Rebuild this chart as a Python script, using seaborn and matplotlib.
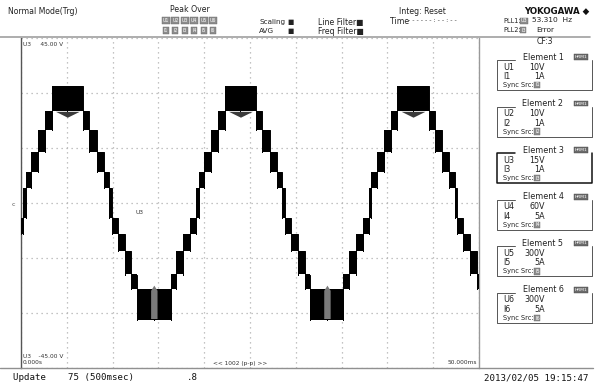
import numpy as np
import pandas as pd
import matplotlib.pyplot as plt
import seaborn as sns
from matplotlib.lines import Line2D

# --- data ---
PEAK_TIMES_MS = [5.06, 23.96, 42.80]
TROUGH_TIMES_MS = [14.50, 33.40]

# stair steps of the falling half wave, as offsets (ms) from a peak
STEP_START_MS = [0.00, 1.70, 2.40, 3.20, 3.95, 4.55, 4.85, 5.50, 6.25, 7.00, 7.63]
STEP_END_MS = [1.70, 2.40, 3.20, 3.95, 4.55, 4.85, 5.50, 6.25, 7.00, 7.63, 9.43]
STEP_LOW_V = [25.0, 20.0, 14.0, 8.5, 4.0, -4.0, -8.5, -13.0, -19.5, -23.5, -32.0]
STEP_HIGH_V = [32.0, 25.0, 20.0, 14.0, 8.5, 4.0, -4.0, -8.5, -13.0, -19.5, -23.5]

# grey detail under each peak and inside each trough
DIP_OFFSET_MS = [-1.3, 0.0, 1.3]
DIP_V = [25.0, 23.4, 25.0]
STRIPE_OFFSET_MS = [-0.35, 0.0, 0.35]
STRIPE_TOP_V = [-23.8, -22.4, -23.8]

ELEMENT_U = ['U1', 'U2', 'U3', 'U4', 'U5', 'U6']
ELEMENT_U_RANGE = ['10V', '10V', '15V', '60V', '300V', '300V']
ELEMENT_I = ['I1', 'I2', 'I3', 'I4', 'I5', 'I6']
ELEMENT_I_RANGE = ['1A', '1A', '1A', '5A', '5A', '5A']

X_TICKS_MS = [0, 5, 10, 15, 20, 25, 30, 35, 40, 45, 50]
Y_TICKS_V = [-45, -30, -15, 0, 15, 30, 45]

W, H = 599, 387


def px(x, y):
    return x / W, 1 - y / H


# build the blocks (mirror the falling half for the rising side)
rows = []
for tp in PEAK_TIMES_MS:
    for s, e, lo, hi in zip(STEP_START_MS, STEP_END_MS, STEP_LOW_V, STEP_HIGH_V):
        rows.append((tp + s, tp + e, lo, hi))
        rows.append((tp - e, tp - s, lo, hi))
blocks = pd.DataFrame(rows, columns=['t0', 't1', 'lo', 'hi'])
blocks['t0'] = blocks['t0'].clip(0, 50)
blocks['t1'] = blocks['t1'].clip(0, 50)
blocks = blocks[blocks['t1'] > blocks['t0']].sort_values('t0').reset_index(drop=True)

# outline trace running along the block edges
pts = []
for _, b in blocks.iterrows():
    pts += [(b.t0, b.lo), (b.t0, b.hi), (b.t1, b.hi), (b.t1, b.lo)]
trace = pd.DataFrame(pts, columns=['t', 'v'])

sns.set_style('white')
plt.rcParams['font.family'] = ['DejaVu Sans']

fig = plt.figure(figsize=(W / 100, H / 100), dpi=100)
ax = fig.add_axes([21 / W, 1 - 368 / H, 458 / W, 330 / H])

for _, b in blocks.iterrows():
    ax.fill_between([b.t0, b.t1], [b.lo, b.lo], [b.hi, b.hi],
                    color='black', linewidth=0, zorder=3)
sns.lineplot(data=trace, x='t', y='v', color='black', linewidth=0.7,
             sort=False, estimator=None, ax=ax, zorder=3)

for tp in PEAK_TIMES_MS:
    ax.fill_between([tp + o for o in DIP_OFFSET_MS], DIP_V, [25.0] * 3,
                    color='#3a3a3a', linewidth=0, zorder=4)
for tt in TROUGH_TIMES_MS:
    ax.fill_between([tt + o for o in STRIPE_OFFSET_MS], [-31.5] * 3, STRIPE_TOP_V,
                    color='#7a7a7a', linewidth=0, zorder=4)

ax.set_xlim(0, 50)
ax.set_ylim(-45, 45)
ax.set_xticks(X_TICKS_MS)
ax.set_yticks(Y_TICKS_V)
ax.tick_params(length=0, labelbottom=False, labelleft=False)
ax.grid(True, color='#b0b0b0', linestyle=(0, (1, 3)), linewidth=0.9)
ax.set_xlabel('')
ax.set_ylabel('')
for side in ['top', 'bottom']:
    ax.spines[side].set_visible(False)
ax.spines['left'].set_color('#555555')
ax.spines['left'].set_linewidth(1.0)
ax.spines['right'].set_color('#999999')
ax.spines['right'].set_linewidth(1.0)

# frame lines of the screen
fig.add_artist(Line2D([0, 590 / W], [1 - 36.5 / H] * 2, color='#a0a0a0', lw=1.2))
fig.add_artist(Line2D([0, 593 / W], [1 - 368 / H] * 2, color='#909090', lw=1.0))

small = dict(fontsize=5.6, color='#222222', va='center')
tiny = dict(fontsize=4.2, color='#333333', va='center')
tag = dict(fontsize=3.5, color='white', va='center')

# header
fig.text(*px(8, 12), 'Normal Mode(Trg)', **small)
fig.text(*px(190, 10), 'Peak Over', ha='center', **small)
for i in range(6):
    for row, lab in enumerate(['U', 'I']):
        fig.text(*px(166 + i * 9.4, 20.5 + row * 10), f'{lab}{i + 1}', fontsize=3.4,
                 color='white', ha='center', va='center',
                 bbox=dict(boxstyle='square,pad=0.18', fc='#8c8c8c', ec='#666666', lw=0.3))
fig.text(*px(259, 22), 'Scaling', fontsize=5.2, color='#222222', va='center')
fig.text(*px(259, 31), 'AVG', fontsize=5.2, color='#222222', va='center')
fig.text(*px(287, 22), '■', fontsize=4.8, color='#222222', va='center')
fig.text(*px(287, 31), '■', fontsize=4.8, color='#222222', va='center')
fig.text(*px(318, 22), 'Line Filter■', **small)
fig.text(*px(318, 31), 'Freq Filter■', **small)
fig.text(*px(390, 22), 'Time', **small)
fig.text(*px(422, 11), 'Integ: Reset', ha='center', **small)
fig.text(*px(432, 20), '- - - - - - : - - : - -', ha='center', fontsize=4.6,
         color='#222222', va='center')
fig.text(*px(589, 11), 'YOKOGAWA ◆', ha='right', fontsize=6.2, fontweight='bold',
         color='#111111', va='center')
fig.text(*px(503, 21), 'PLL1:', fontsize=4.8, color='#222222', va='center')
fig.text(*px(521, 21), 'U3', bbox=dict(boxstyle='square,pad=0.15', fc='#8c8c8c',
                                       ec='#666666', lw=0.3), **tag)
fig.text(*px(532, 20), '53.310  Hz', fontsize=5.4, color='#222222', va='center')
fig.text(*px(503, 30), 'PLL2:', fontsize=4.8, color='#222222', va='center')
fig.text(*px(521, 30), 'I3', bbox=dict(boxstyle='square,pad=0.15', fc='#8c8c8c',
                                       ec='#666666', lw=0.3), **tag)
fig.text(*px(536, 30), 'Error', fontsize=5.4, color='#222222', va='center')
fig.text(*px(545, 42), 'CF:3', ha='center', **small)

# labels inside the waveform area
fig.text(*px(23, 44), 'U3     45.00 V', **tiny)
fig.text(*px(23, 357), 'U3    -45.00 V', **tiny)
fig.text(*px(23, 363), '0.000s', **tiny)
fig.text(*px(240, 363), '<< 1002 (p-p) >>', ha='center', **tiny)
fig.text(*px(477, 363), '50.000ms', ha='right', **tiny)
fig.text(*px(139, 213), 'U3', ha='center', **tiny)
fig.text(*px(13, 205), 'c', ha='center', fontsize=4.5, color='#555555', va='center')

# element panel
for k in range(6):
    ty = 57 + k * 46.6
    top, bot = ty + 3, ty + 33
    sel = k == 2
    ec = '#111111' if sel else '#555555'
    lw = 1.1 if sel else 0.7
    fig.add_artist(Line2D([515 / W, 497 / W, 497 / W, 592 / W, 592 / W],
                          [1 - top / H, 1 - top / H, 1 - bot / H, 1 - bot / H, 1 - top / H],
                          color=ec, lw=lw))
    fig.text(*px(543, ty), f'Element {k + 1}', ha='center', fontsize=5.8,
             color='#222222', va='center')
    fig.text(*px(581, ty), 'HRM1', ha='center', fontsize=3.2, color='white', va='center',
             bbox=dict(boxstyle='square,pad=0.2', fc='#6a6a6a', ec='#444444', lw=0.3))
    fig.text(*px(503, ty + 10), ELEMENT_U[k], fontsize=5.8, color='#222222', va='center')
    fig.text(*px(545, ty + 10), ELEMENT_U_RANGE[k], ha='right', fontsize=5.8,
             color='#222222', va='center')
    fig.text(*px(503, ty + 19.5), ELEMENT_I[k], fontsize=5.8, color='#222222', va='center')
    fig.text(*px(545, ty + 19.5), ELEMENT_I_RANGE[k], ha='right', fontsize=5.8,
             color='#222222', va='center')
    fig.text(*px(503, ty + 28), 'Sync Src:', fontsize=4.8, color='#222222', va='center')
    fig.text(*px(535, ty + 28), ELEMENT_I[k], bbox=dict(boxstyle='square,pad=0.15',
                                                        fc='#8c8c8c', ec='#666666',
                                                        lw=0.3), **tag)

# status line
mono = dict(fontsize=6.6, family='DejaVu Sans Mono', color='#111111', va='center')
fig.text(*px(13, 378), 'Update    75 (500msec)', **mono)
fig.text(*px(187, 378), '.8', **mono)
fig.text(*px(588, 378), '2013/02/05 19:15:47', ha='right', **mono)

fig.savefig('out.png', dpi=100, facecolor='white')
